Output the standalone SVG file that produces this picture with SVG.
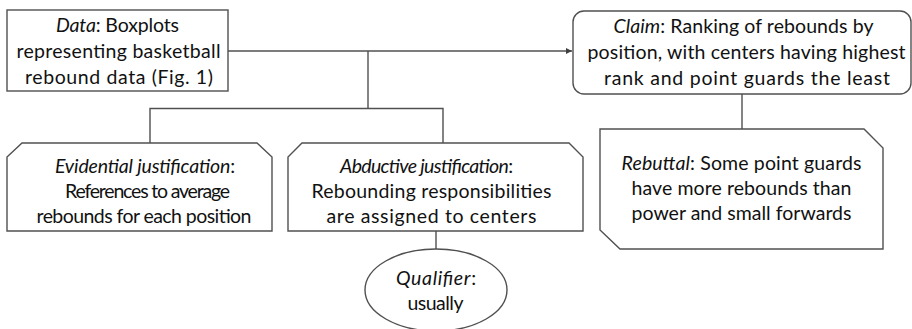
<svg xmlns="http://www.w3.org/2000/svg" width="912" height="329" viewBox="0 0 912 329">
<defs>
<style>
.box{fill:#fff;stroke:#505050;stroke-width:1.4}
.ln{fill:none;stroke:#505050;stroke-width:1.4}
text{font-family:Lato,"Open Sans","Liberation Sans",sans-serif;font-size:19.5px;fill:#111;text-anchor:middle}
.i{font-style:italic}
</style>
<marker id="ah" viewBox="0 0 8 8" refX="8" refY="4" markerWidth="6" markerHeight="6" orient="auto" markerUnits="userSpaceOnUse">
<path d="M0,0 L8,4 L0,8 z" fill="#404040"/>
</marker>
</defs>
<rect width="912" height="329" fill="#fff"/>
<g id="connectors">
<path class="ln" d="M228,51 H572" marker-end="url(#ah)"/>
<path class="ln" d="M368,51 V108.5"/>
<path class="ln" d="M150,143 V108.5 H443 V143"/>
<path class="ln" d="M742,94 V129"/>
<path class="ln" d="M436,231 V249"/>
</g>
<g id="data">
<rect class="box" x="7" y="10" width="221" height="81"/>
<text x="117.5" y="32" textLength="123"><tspan class="i">Data</tspan>: Boxplots</text>
<text x="118.5" y="58" textLength="204">representing basketball</text>
<text x="119" y="84" textLength="188">rebound data (Fig. 1)</text>
</g>
<g id="claim">
<rect class="box" x="573" y="11" width="338" height="83" rx="11"/>
<text x="743.5" y="33" textLength="260"><tspan class="i">Claim</tspan>: Ranking of rebounds by</text>
<text x="746.5" y="59" textLength="318">position, with centers having highest</text>
<text x="747" y="85" textLength="286">rank and point guards the least</text>
</g>
<g id="evidential">
<path class="box" d="M22,143 H257 L272,157 V231 H7 V157 Z"/>
<text x="145" y="173" textLength="180"><tspan class="i">Evidential justification</tspan>:</text>
<text x="147.5" y="198" textLength="165">References to average</text>
<text x="144" y="223" textLength="215">rebounds for each position</text>
</g>
<g id="abductive">
<path class="box" d="M302,143 H569 L583,157 V231 H288 V157 Z"/>
<text x="426.5" y="173" textLength="173"><tspan class="i">Abductive justification</tspan>:</text>
<text x="431.5" y="198" textLength="240">Rebounding responsibilities</text>
<text x="431.5" y="223" textLength="210">are assigned to centers</text>
</g>
<g id="rebuttal">
<path class="box" d="M600,129 H864 L883,148 V249 H620 L600,230 Z"/>
<text x="741.5" y="170" textLength="240"><tspan class="i">Rebuttal</tspan>: Some point guards</text>
<text x="741.5" y="195" textLength="220">have more rebounds than</text>
<text x="741.5" y="220" textLength="220">power and small forwards</text>
</g>
<g id="qualifier">
<ellipse class="box" cx="436" cy="290" rx="71" ry="41"/>
<text x="436" y="285" textLength="80"><tspan class="i">Qualifier</tspan>:</text>
<text x="435.5" y="310" textLength="56">usually</text>
</g>
</svg>
